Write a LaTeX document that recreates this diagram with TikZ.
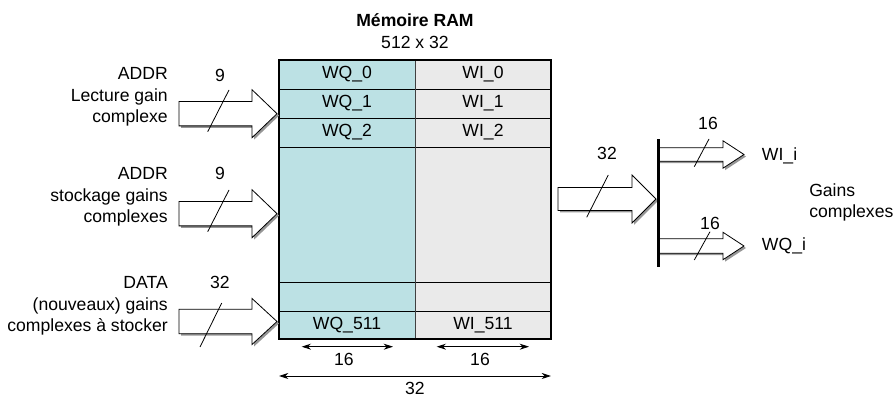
\documentclass[tikz,border=0pt]{standalone}
\usepackage{fontspec}
\setmainfont{Liberation Sans}
\usetikzlibrary{arrows.meta}
\definecolor{ramteal}{RGB}{188,225,228}
\definecolor{ramgray}{RGB}{234,234,234}
\definecolor{shadowgray}{RGB}{150,150,150}
\newcommand\BlkArrow[6]{%
  \fill[shadowgray] ({#1+2},{#4-#5+2}) -- ({#2+2},{#4-#5+2}) -- ({#2+2},{#4-#6+2}) -- ({#3+2},{#4+2}) -- ({#2+2},{#4+#6+2}) -- ({#2+2},{#4+#5+2}) -- ({#1+2},{#4+#5+2}) -- cycle;
  \filldraw[fill=white,draw=black,line width=0.6pt] (#1,{#4-#5}) -- (#2,{#4-#5}) -- (#2,{#4-#6}) -- (#3,#4) -- (#2,{#4+#6}) -- (#2,{#4+#5}) -- (#1,{#4+#5}) -- cycle;
}
\tikzset{
  txt/.style={inner sep=0pt,font=\fontsize{13.2}{16.1}\selectfont},
  slash/.style={line width=0.6pt},
  dim/.style={line width=0.6pt,{Stealth[length=7pt,width=4.5pt]}-{Stealth[length=7pt,width=4.5pt]}},
  rowline/.style={line width=0.7pt,draw=black},
}
\begin{document}
\begin{tikzpicture}[x=0.75pt,y=-0.75pt]
\useasboundingbox (0,0) rectangle (894,398);
% title
\node[txt,font=\fontsize{13.2}{15}\selectfont\bfseries] (title) at (415,20) {Mémoire RAM};
\node[txt] (size) at (415,42) {512 x 32};
% RAM table
\fill[ramteal] (279,60) rectangle (415,339);
\fill[ramgray] (415,60) rectangle (551,339);
\foreach \yy in {89,118,147,282,311}{\draw[rowline] (279,\yy) -- (551,\yy);}
\draw[line width=0.7pt,draw=black!75] (415,60) -- (415,339);
\draw[line width=0.8pt] (279,60) rectangle (551,339);
\node[txt] (q0) at (347,74.5) {WQ\_0};
\node[txt] (i0) at (483,74.5) {WI\_0};
\node[txt] (q1) at (347,103.5) {WQ\_1};
\node[txt] (i1) at (483,103.5) {WI\_1};
\node[txt] (q2) at (347,132.5) {WQ\_2};
\node[txt] (i2) at (483,132.5) {WI\_2};
\node[txt] (q511) at (347,325) {WQ\_511};
\node[txt] (i511) at (483,325) {WI\_511};
% dimensions
\coordinate (d1a) at (301.7,346.7); \coordinate (d1b) at (393,346.7);
\coordinate (d2a) at (436.7,346.7); \coordinate (d2b) at (529,346.7);
\coordinate (d3a) at (279,376); \coordinate (d3b) at (551,376);
\draw[dim] (d1a) -- (d1b);
\draw[dim] (d2a) -- (d2b);
\draw[dim] (d3a) -- (d3b);
\node[txt] (w1) at (344,359) {16};
\node[txt] (w2) at (480,359) {16};
\node[txt] (w3) at (415,388) {32};
% input arrows
\BlkArrow{179}{252}{277}{113.7}{12.2}{24}
\BlkArrow{179}{252}{277}{213.7}{12.2}{24}
\BlkArrow{179}{252}{277}{321.5}{12.2}{23}
\coordinate (s1a) at (207.7,131.7); \coordinate (s1b) at (229,90);
\coordinate (s2a) at (207.7,231.7); \coordinate (s2b) at (229,190);
\coordinate (s3a) at (200,347); \coordinate (s3b) at (221.7,303);
\draw[slash] (s1a) -- (s1b);
\draw[slash] (s2a) -- (s2b);
\draw[slash] (s3a) -- (s3b);
\node[txt] (n1) at (220,75) {9};
\node[txt] (n2) at (220,173) {9};
\node[txt] (n3) at (220,282) {32};
\node[txt,align=right,anchor=east] (l1) at (168,97) {ADDR\\Lecture gain\\complexe};
\node[txt,align=right,anchor=east] (l2) at (168,197) {ADDR\\stockage gains\\complexes};
\node[txt,align=right,anchor=east] (l3) at (168,306) {DATA\\(nouveaux) gains\\complexes à stocker};
% output
\BlkArrow{558}{632}{656}{199}{11.5}{24}
\coordinate (s4a) at (586.7,217.3); \coordinate (s4b) at (608.3,175);
\draw[slash] (s4a) -- (s4b);
\node[txt] (n4) at (607,153) {32};
\BlkArrow{658}{723}{744}{154.5}{6.7}{13.7}
\BlkArrow{658}{723}{744}{246}{7.2}{13.7}
\coordinate (bt) at (658.3,139.3); \coordinate (bb) at (658.3,266.7);
\draw[line width=2.2pt] (bt) -- (bb);
\coordinate (s5a) at (694.3,166.7); \coordinate (s5b) at (709,139);
\coordinate (s6a) at (694.3,260); \coordinate (s6b) at (710,231.7);
\draw[slash] (s5a) -- (s5b);
\draw[slash] (s6a) -- (s6b);
\node[txt] (n5) at (708,123) {16};
\node[txt] (n6) at (710,223) {16};
\node[txt,anchor=west] (wi) at (761.7,156) {WI\_i};
\node[txt,anchor=west] (wq) at (761.7,246) {WQ\_i};
\node[txt,align=left,anchor=west] (gc) at (809,202.5) {Gains\\complexes};
\end{tikzpicture}
\end{document}
